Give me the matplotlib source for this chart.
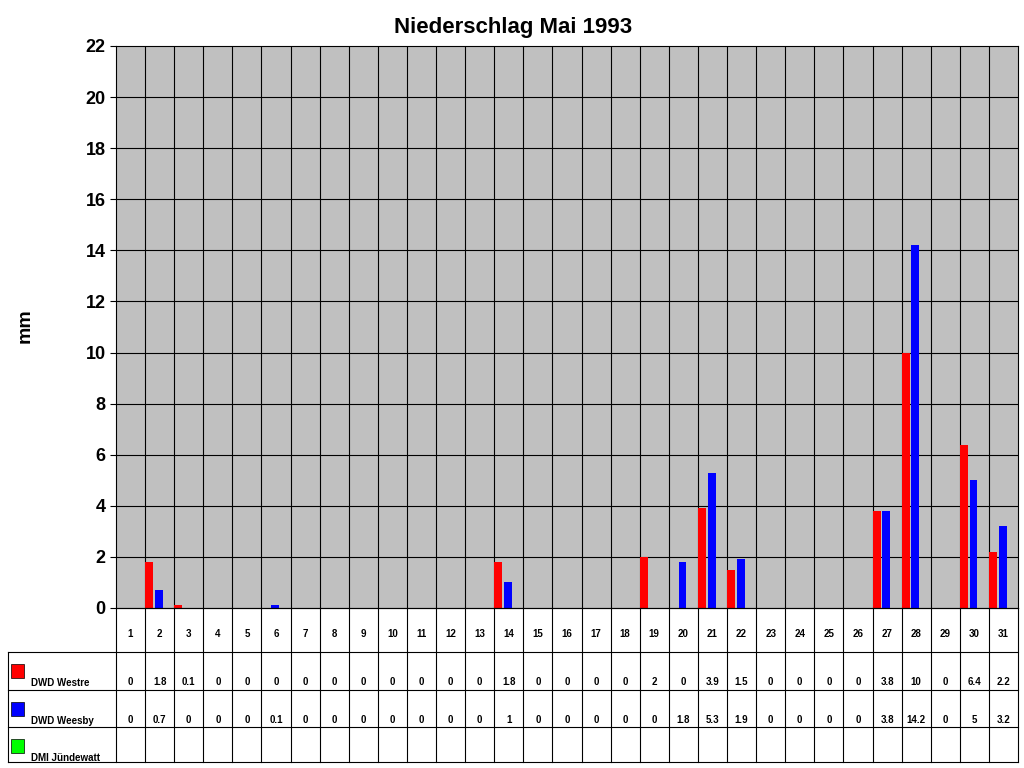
import matplotlib
matplotlib.use('Agg')
import matplotlib.pyplot as plt
import numpy as np
from matplotlib.lines import Line2D
from matplotlib.patches import Rectangle

plt.rcParams['font.family'] = ['Liberation Sans', 'DejaVu Sans']

days = list(range(1, 32))
westre = [0, 1.8, 0.1, 0, 0, 0, 0, 0, 0, 0, 0, 0, 0, 1.8, 0, 0, 0, 0, 2, 0,
          3.9, 1.5, 0, 0, 0, 0, 3.8, 10, 0, 6.4, 2.2]
weesby = [0, 0.7, 0, 0, 0, 0.1, 0, 0, 0, 0, 0, 0, 0, 1, 0, 0, 0, 0, 0, 1.8,
          5.3, 1.9, 0, 0, 0, 0, 3.8, 14.2, 0, 5, 3.2]
juendewatt = [None] * 31
series = [("DWD Westre", westre, "#FF0000"),
          ("DWD Weesby", weesby, "#0000FF"),
          ("DMI Jündewatt", juendewatt, "#00FF00")]

W, H = 1024, 768
fig = plt.figure(figsize=(W / 100, H / 100), dpi=100)

def fx(px):
    return px / W

def fy(py):
    return 1 - py / H

x0, x1, y0, y1 = 116, 1018, 46, 608
ax = fig.add_axes([fx(x0), fy(y1), fx(x1 - x0), fy(y0) - fy(y1)])
ax.set_facecolor('#C0C0C0')
x = np.arange(len(days))
ax.bar(x - 0.36, westre, width=0.27, color='#FF0000')
ax.bar(x - 0.03, weesby, width=0.27, color='#0000FF')
ax.set_xlim(-0.5, len(days) - 0.5)
ax.set_ylim(0, 22)
ax.set_yticks(range(0, 23, 2))
ax.set_yticklabels([str(v) for v in range(0, 23, 2)], fontsize=13, fontweight='bold')
ax.set_xticks([])
for v in range(2, 22, 2):
    ax.axhline(v, color='black', lw=0.8, zorder=0.5)
for i in range(1, len(days)):
    ax.axvline(i - 0.5, color='black', lw=0.8, zorder=0.5)
ax.set_axisbelow(True)
for s in ax.spines.values():
    s.set_color('black')
ax.tick_params(axis='y', length=4)
fig.text(fx(25), fy(326), 'mm', rotation=90, ha='center', va='center',
         fontsize=14, fontweight='bold')
fig.text(fx(513), fy(28), 'Niederschlag Mai 1993', ha='center', va='center',
         fontsize=16, fontweight='bold')

# data table
cw = (x1 - x0) / len(days)
rows = [608, 652, 690, 727, 762]
lk = dict(color='black', lw=0.8, transform=fig.transFigure)
fig.add_artist(Line2D([fx(x0), fx(x1)], [fy(rows[0])] * 2, **lk))
for r in rows[1:]:
    fig.add_artist(Line2D([fx(8), fx(x1)], [fy(r)] * 2, **lk))
fig.add_artist(Line2D([fx(8), fx(8)], [fy(rows[1]), fy(rows[-1])], **lk))
for i in range(len(days) + 1):
    xp = x0 + i * cw
    fig.add_artist(Line2D([fx(xp), fx(xp)], [fy(rows[0]), fy(rows[-1])], **lk))
for i, d in enumerate(days):
    xc = x0 + (i + 0.5) * cw
    fig.text(fx(xc), fy((rows[0] + rows[1]) / 2 + 4), str(d), ha='center', va='center',
             fontsize=7, fontweight='bold')
for k, (name, vals, col) in enumerate(series):
    ytop, ybot = rows[k + 1], rows[k + 2]
    fig.add_artist(Rectangle((fx(11), fy(ytop + 26)), fx(13), fy(0) - fy(14),
                             facecolor=col, edgecolor='black', lw=0.5,
                             transform=fig.transFigure))
    fig.text(fx(31), fy(ytop + 31), name, ha='left', va='center', fontsize=7,
             fontweight='bold')
    for i, v in enumerate(vals):
        if v is None:
            continue
        xc = x0 + (i + 0.5) * cw
        fig.text(fx(xc), fy(ytop + 30), f"{v:g}", ha='center', va='center',
                 fontsize=7, fontweight='bold')

fig.savefig('out.png', dpi=100)
